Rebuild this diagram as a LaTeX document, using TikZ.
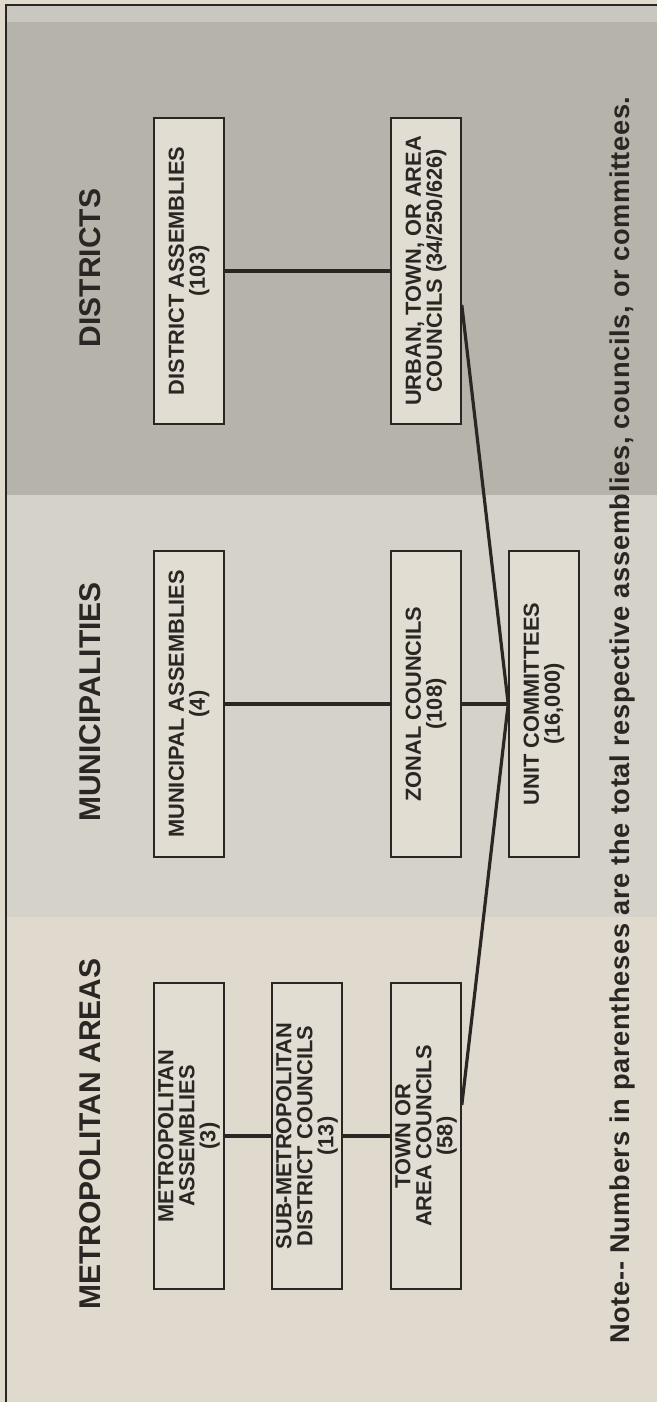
\documentclass[tikz,border=0pt]{standalone}
\usepackage{fontspec}
\setmainfont{Liberation Sans}
\usetikzlibrary{calc}
\definecolor{bgbeige}{HTML}{E0DACE}
\definecolor{distgrey}{HTML}{B6B3AB}
\definecolor{topgrey}{HTML}{C9C7C0}
\definecolor{munigrey}{HTML}{D5D2CA}
\definecolor{boxfill}{HTML}{E2DDD3}
\definecolor{ink}{HTML}{2A2623}
\begin{document}
\begin{tikzpicture}[x=0.5pt,y=-0.5pt,
  unitbox/.style={draw=ink, line width=0.8pt, fill=boxfill, rotate=90,
    minimum width=153pt, minimum height=35pt, inner sep=0pt, align=center,
    font=\bfseries\fontsize{10.9}{10.5}\selectfont, text=ink},
  heading/.style={rotate=90, inner sep=0pt, font=\bfseries\fontsize{15}{15}\selectfont, text=ink},
  link/.style={draw=ink, line width=1.6pt}]
\useasboundingbox (0,0) rectangle (657,1402);
% background bands
\fill[bgbeige] (0,0) rectangle (657,1402);
\fill[topgrey] (6,5) rectangle (657,22);
\fill[distgrey] (6,22) rectangle (657,495);
\fill[munigrey] (6,495) rectangle (657,917);
\draw[ink, line width=0.8pt] (6,1402) -- (6,5) -- (657,5);

% headings
\node[heading] (hdist) at (90,268) {DISTRICTS};
\node[heading] (hmuni) at (90,702) {MUNICIPALITIES};
\node[heading] (hmetro) at (90,1134) {METROPOLITAN AREAS};

% boxes
\node[unitbox] (dist)  at (189,271) {DISTRICT ASSEMBLIES\\(103)};
\node[unitbox] (urban) at (426,271) {URBAN, TOWN, OR AREA\\COUNCILS (34/250/626)};
\node[unitbox] (muni)  at (189,704) {MUNICIPAL ASSEMBLIES\\(4)};
\node[unitbox] (zonal) at (426,704) {ZONAL COUNCILS\\(108)};
\node[unitbox] (unit)  at (544,704) {UNIT COMMITTEES\\(16,000)};
\node[unitbox] (metro) at (189,1136) {METROPOLITAN\\ASSEMBLIES\\(3)};
\node[unitbox] (sub)   at (307,1136) {SUB-METROPOLITAN\\DISTRICT COUNCILS\\(13)};
\node[unitbox] (town)  at (426,1136) {TOWN OR\\AREA COUNCILS\\(58)};

% connectors
\draw[link] (dist) -- (urban);
\draw[link] (muni) -- (zonal);
\draw[link] (zonal) -- (unit);
\draw[link] (metro) -- (sub);
\draw[link] (sub) -- (town);
\draw[link] ($(urban.south)+(0,34)$) -- (unit.north) -- ($(town.south)+(0,-31)$);

% note
\node[rotate=90, inner sep=0pt, text=ink,
  font=\bfseries\fontsize{13.6}{13.6}\selectfont\addfontfeature{LetterSpace=2.4}]
  (note) at (622,720) {Note-{}- Numbers in parentheses are the total respective assemblies, councils, or committees.};
\end{tikzpicture}
\end{document}
